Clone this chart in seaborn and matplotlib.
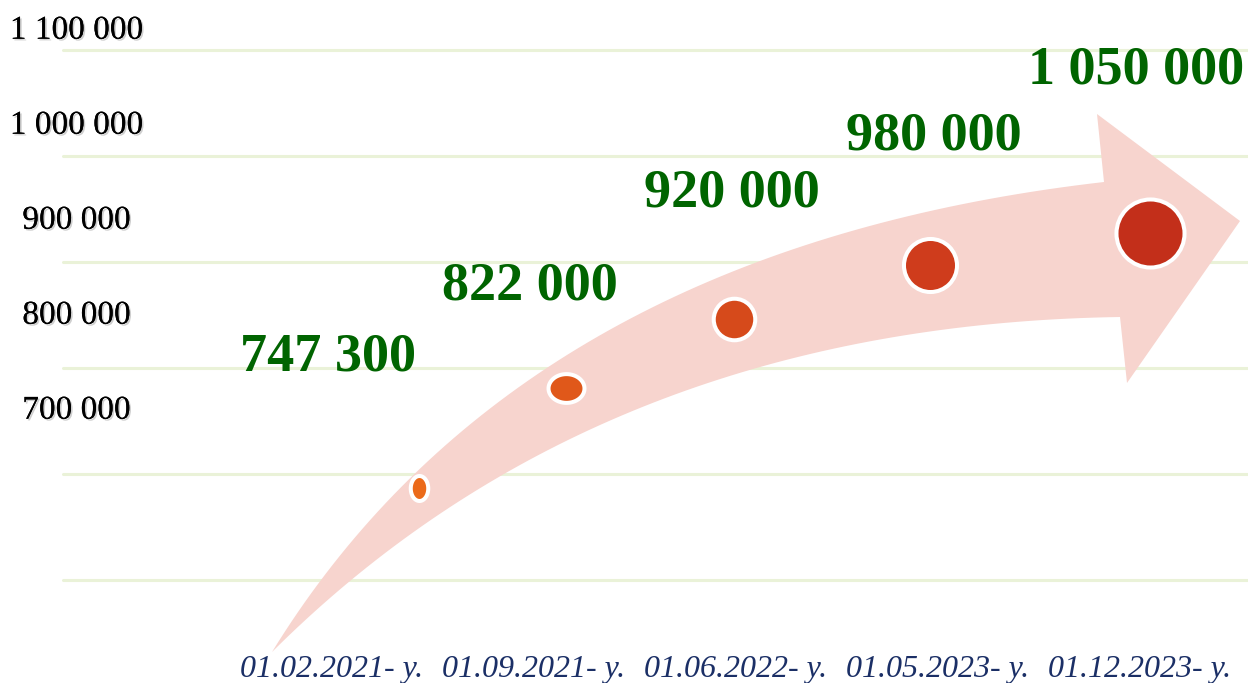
import numpy as np
import matplotlib.pyplot as plt
import matplotlib.patheffects as pe
from matplotlib.path import Path
from matplotlib.patches import Polygon
from matplotlib.transforms import Affine2D
import seaborn as sns

# chart data
dates = ['01.02.2021- y.', '01.09.2021- y.', '01.06.2022- y.', '01.05.2023- y.', '01.12.2023- y.']
values = [747300, 822000, 920000, 980000, 1050000]
value_labels = ['747 300', '822 000', '920 000', '980 000', '1 050 000']
y_ticks = [700000, 800000, 900000, 1000000, 1100000]
y_tick_labels = ['700 000', '800 000', '900 000', '1 000 000', '1 100 000']
grid_levels = [1076000, 964000, 853000, 741000, 629000, 518000]

# where the dots sit on the arrow
dot_x = [0.43, 1.16, 1.99, 2.96, 4.05]
dot_y = [615000, 720000, 793000, 849000, 883000]

W, H = 1248, 683
sns.set_theme(style='white')
plt.rcParams['font.family'] = ['Liberation Serif', 'DejaVu Serif']

fig = plt.figure(figsize=(W / 100, H / 100), dpi=100)
ax = fig.add_axes([0, 0, 1, 1])
ax.set_facecolor('none')
for s in ax.spines.values():
    s.set_visible(False)

# axis scales: category i centred at px 332 + 202*i, 1 100 000 at px 27 from top
ax.set_xlim(-332 / 202, (W - 332) / 202)
ax.set_ylim(1100000 - (H - 27) / 0.00095, 1100000 + 27 / 0.00095)

# grid lines
for g in grid_levels:
    ax.axhline(g, xmin=63 / W, xmax=1, color='#EAF2D8', lw=2.2, zorder=0)

# decorative arrow, drawn in pixel coordinates of the picture
def bez(p0, c, p2, n=80):
    t = np.linspace(0, 1, n)[:, None]
    return (1 - t) ** 2 * np.array(p0) + 2 * t * (1 - t) * np.array(c) + t ** 2 * np.array(p2)

upper = bez((272, 652), (520, 249), (1104, 182))
lower = bez((1120, 317), (600, 325), (272, 652))
head = np.array([(1097, 114), (1240, 221), (1127, 383)])
outline = np.vstack([upper, head, lower])
px = Affine2D().scale(1 / W, -1 / H).translate(0, 1) + fig.transFigure
ax.add_patch(Polygon(outline, closed=True, facecolor='#F7D4CE', edgecolor='none',
                     transform=px, zorder=1, clip_on=False))

# dots (first two are slightly elliptical in the picture)
def ellipse(w, h):
    th = np.linspace(0, 2 * np.pi, 60)
    return Path(np.column_stack([w * np.cos(th), h * np.sin(th)]), closed=True)

dot_markers = [ellipse(0.7, 1), ellipse(1, 0.8), 'o', 'o', 'o']
dot_sizes = [324, 671, 894, 1459, 2401]
dot_colors = ['#EB6A1A', '#E0581A', '#D64A1B', '#CF3C1C', '#C32F1A']
for i in range(len(dates)):
    sns.scatterplot(x=[dot_x[i]], y=[dot_y[i]], marker=dot_markers[i], s=dot_sizes[i],
                    color=dot_colors[i], edgecolor='white', linewidth=2.9, ax=ax, zorder=3)

# value labels
for i, (v, lab) in enumerate(zip(values, value_labels)):
    ax.annotate(lab, (i, v), xytext=(-3, 3), textcoords='offset points', ha='center',
                va='center', fontsize=39, fontweight='bold', color='#006400', zorder=4)

# ticks
ax.set_xticks(range(len(dates)), dates)
ax.set_yticks(y_ticks, y_tick_labels)
ax.tick_params(axis='x', length=0, pad=-20.5, labelsize=23, labelcolor='#1B2F66')
ax.tick_params(axis='y', length=0, pad=-55, labelsize=24, labelcolor='black')
for lab in ax.get_xticklabels():
    lab.set_fontstyle('italic')
for lab in ax.get_yticklabels():
    lab.set_ha('center')
    lab.set_path_effects([pe.withSimplePatchShadow(offset=(1.2, -1.2), shadow_rgbFace='#777777', alpha=0.35),
                          pe.Normal()])
ax.set_xlabel('')
ax.set_ylabel('')
ax.grid(False)

fig.savefig('out.png', dpi=100)
